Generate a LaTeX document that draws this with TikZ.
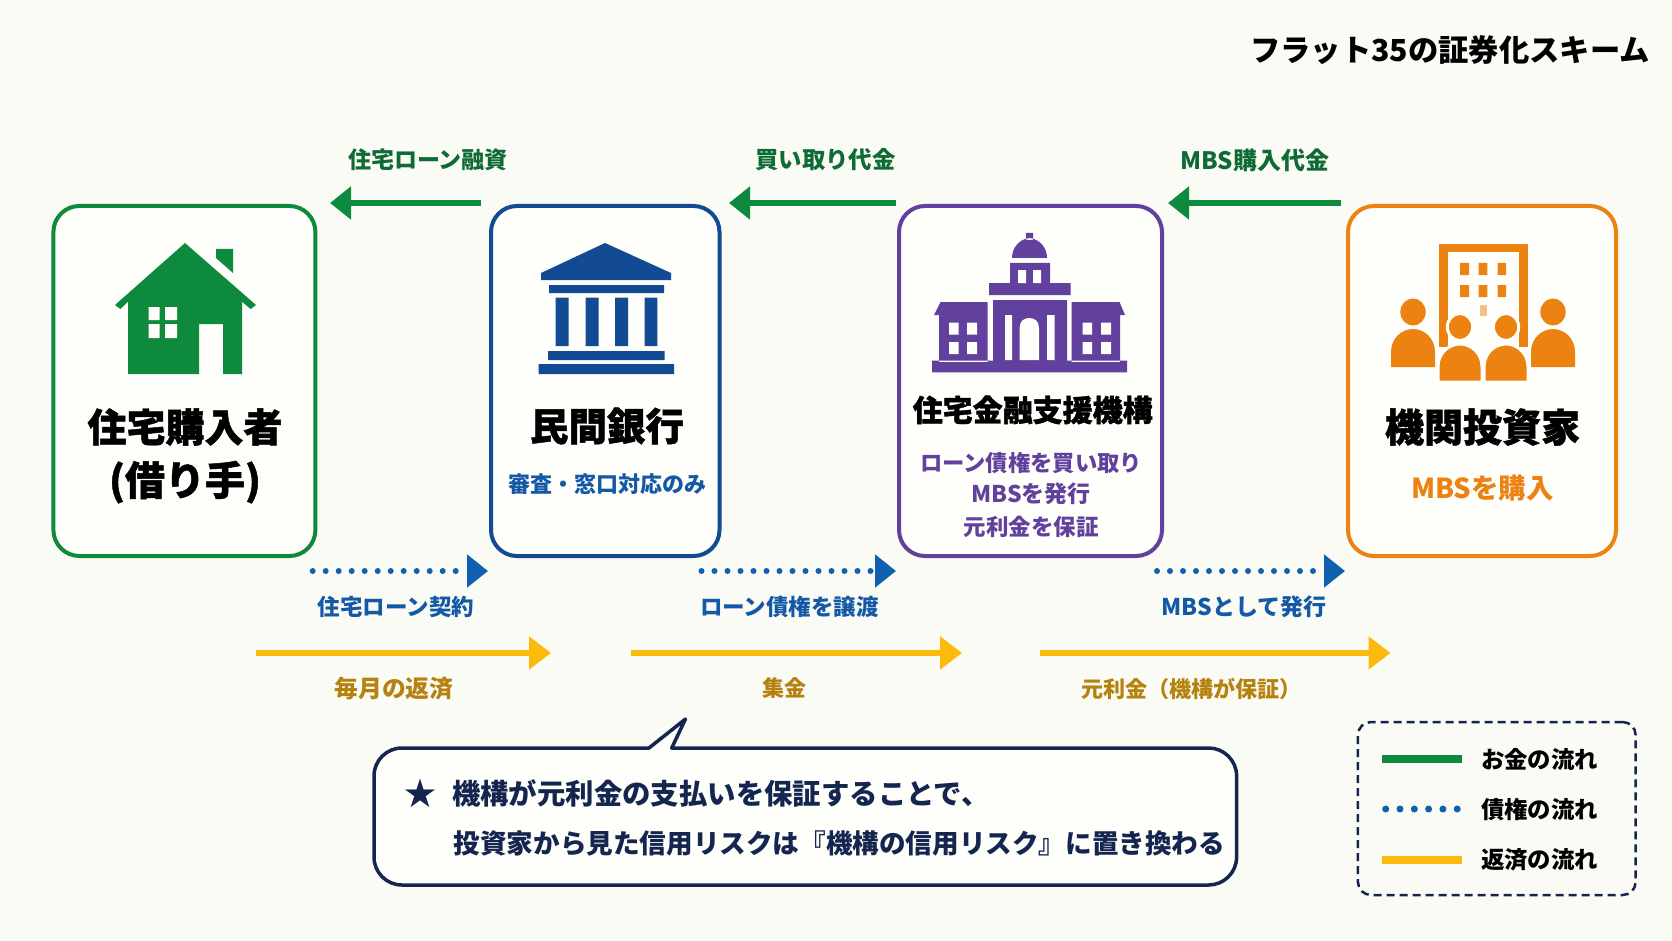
\documentclass[tikz,border=0pt]{standalone}
\usepackage{fontspec}
\setmainfont{Noto Sans CJK JP}
\newfontfamily\heavyfont{Noto Sans CJK JP}[UprightFont=* Bold, FakeBold=1.2]
\usepackage{tikz}
\usetikzlibrary{positioning, arrows.meta}
\definecolor{pageclr}{rgb}{0.985, 0.985, 0.96}
\definecolor{cardclr}{rgb}{0.995, 0.995, 0.98}
\definecolor{moneyclr}{rgb}{0.05, 0.54, 0.24}
\definecolor{moneytxt}{rgb}{0.06, 0.42, 0.21}
\definecolor{bankclr}{rgb}{0.07, 0.29, 0.58}
\definecolor{claimclr}{rgb}{0.06, 0.38, 0.69}
\definecolor{claimtxt}{rgb}{0.08, 0.35, 0.65}
\definecolor{agencyclr}{rgb}{0.38, 0.25, 0.62}
\definecolor{investclr}{rgb}{0.92, 0.51, 0.07}
\definecolor{payclr}{rgb}{0.99, 0.73, 0.05}
\definecolor{paytxt}{rgb}{0.71, 0.51, 0.06}
\definecolor{navyclr}{rgb}{0.08, 0.15, 0.31}
\tikzset{ %
  ,party/.style={draw, rounded corners=26pt, line width=4pt, fill=cardclr, minimum height=350pt, inner sep=0, outer sep=0}
  ,txt/.style={inner sep=0, outer sep=0, font=\bfseries\fontsize{#1pt}{#1pt}\selectfont, text height={0.88*#1}, text depth={0.12*#1}}
  ,head/.style={txt=#1, text=black, execute at begin node=\heavyfont}
  ,money/.style={color=moneyclr, line width=6.5pt, -{Triangle[length=21pt, width=32pt]}}
  ,claim/.style={color=claimclr, line width=6pt, line cap=round, dash pattern=on 0pt off 13pt, -{Triangle[length=21pt, width=32pt]}}
  ,pay/.style={color=payclr, line width=6.5pt, -{Triangle[length=22pt, width=32pt]}}
  ,person/.pic={
    \path[pic actions] (0,0) ellipse [x radius=12.7pt, y radius=13.5pt];
    \path[pic actions] (-22,55) -- (-22,40) .. controls (-22,26) and (-11,17) .. (0,17) .. controls (11,17) and (22,26) .. (22,40) -- (22,55) -- cycle;
  }
}
\begin{document}
\begin{tikzpicture}[x=1pt, y=-1pt]
  \fill[pageclr] (0,0) rectangle (1672,941);

  \draw
  node[party, draw=moneyclr, minimum width=262pt] (buyer) at (184.4,381) {}
  node[party, draw=bankclr, minimum width=228.5pt, right=175.6pt of buyer] (bank) {}
  node[party, draw=agencyclr, minimum width=263pt, right=179.5pt of bank] (agency) {}
  node[party, draw=investclr, minimum width=268pt, right=186pt of agency] (invest) {};

  \fill[moneyclr] (185,243) -- (256,305) -- (250.6,309) -- (242,301.7) -- (242,374) -- (223,374) -- (223,324) -- (199,324) -- (199,374) -- (128,374) -- (128,301.7) -- (120.4,309) -- (115,305) -- cycle
    (216,249) -- (233,249) -- (233,273) -- (216,258) -- cycle;
  \fill[cardclr] (148.5,307) rectangle (159.6,320) (165,307) rectangle (177,320) (148.5,324) rectangle (159.6,338) (165,324) rectangle (177,338);

  \fill[bankclr] (605,243) -- (671,273) -- (671,280) -- (541,280) -- (541,273) -- cycle
    (549,285) rectangle (664,293)
    (555.6,297.7) rectangle (568.6,346) (585.5,297.7) rectangle (598.5,346) (615,297.7) rectangle (628,346) (644.5,297.7) rectangle (657.4,346)
    (548,351) rectangle (664.5,360) (538.7,364) rectangle (674,374);

  \fill[agencyclr] (1026,233) rectangle (1033,240)
    (1012,258) .. controls (1012,247) and (1020,239) .. (1029.5,238) .. controls (1039,239) and (1047,247) .. (1047,258) -- cycle
    (1010,263) rectangle (1050,284) (989,283) rectangle (1070.5,295) (993,300) rectangle (1067,362)
    (940.6,302) -- (987.6,302) -- (987.6,362) -- (939,362) -- (939,315) -- (934,315) -- cycle
    (1071.5,302) -- (1119.5,302) -- (1125,315) -- (1120,315) -- (1120,362) -- (1071.5,362) -- cycle
    (932,360.7) rectangle (1127,372.3);
  \fill[cardclr] (1018,270) rectangle (1026,283) (1033,270) rectangle (1041,283)
    (1005,315) rectangle (1012,360) (1047,315) rectangle (1054.5,360)
    (1019.6,360) -- (1019.6,328) .. controls (1019.6,321) and (1024,318) .. (1029.3,318) .. controls (1034.6,318) and (1039,321) .. (1039,328) -- (1039,360) -- cycle
    (949,322.7) rectangle (958.5,334.7) (967,322.7) rectangle (977,334.7) (949,342) rectangle (958.5,354) (967,342) rectangle (977,354)
    (1082.6,322.7) rectangle (1092,334.7) (1101,322.7) rectangle (1111,334.7) (1082.6,342) rectangle (1092,354) (1101,342) rectangle (1111,354);

  \fill[investclr] (1439,244) rectangle (1527.6,347);
  \fill[cardclr] (1448,252) rectangle (1519,347);
  \fill[investclr] (1460,263) rectangle (1469,275) (1478.6,263) rectangle (1487.4,275) (1497.5,263) rectangle (1506,275)
    (1460,285) rectangle (1469,297) (1478.6,285) rectangle (1487.4,297) (1497.5,285) rectangle (1506,297);
  \fill[investclr!50!cardclr] (1480,305) rectangle (1487,316);
  \pic[fill=investclr] at (1413,312) {person};
  \pic[fill=investclr] at (1553,312) {person};
  \pic[fill=investclr, draw=cardclr, line width=3pt] at (1460,327) {person};
  \pic[fill=investclr, draw=cardclr, line width=3pt] at (1506,327) {person};

  \draw
  node[txt=30.3] (title) at (1450,50) {フラット35の証券化スキーム}
  node[head=39] (buyerA) at (185,427) {住宅購入者}
  node[head=40] (buyerB) at (185,480) {(借り手)}
  node[head=38.5] (bankA) at (607,426) {民間銀行}
  node[txt=22, text=claimtxt] (bankB) at (607,484) {審査・窓口対応のみ}
  node[head=30] (agencyA) at (1032.7,410) {住宅金融支援機構}
  node[txt=22.3, text=agencyclr] (agencyB) at (1031,463) {ローン債権を買い取り}
  node[txt=23, text=agencyclr] (agencyC) at (1031,494) {MBSを発行}
  node[txt=22.5, text=agencyclr] (agencyD) at (1031,527) {元利金を保証}
  node[head=39] (investA) at (1482.5,427) {機関投資家}
  node[txt=27.5, text=investclr] (investB) at (1482.5,488) {MBSを購入};

  \coordinate (loanS) at (481,203);
  \coordinate (loanE) at (330,203);
  \coordinate (buyS) at (896,203);
  \coordinate (buyE) at (729,203);
  \coordinate (mbsS) at (1341,203);
  \coordinate (mbsE) at (1168,203);
  \coordinate (deedS) at (312.7,571);
  \coordinate (deedE) at (488,571);
  \coordinate (sellS) at (701.5,571);
  \coordinate (sellE) at (896,571);
  \coordinate (issueS) at (1157,571);
  \coordinate (issueE) at (1345,571);
  \coordinate (monthS) at (256,653);
  \coordinate (monthE) at (551,653);
  \coordinate (poolS) at (630.7,653);
  \coordinate (poolE) at (962,653);
  \coordinate (backS) at (1039.7,653);
  \coordinate (backE) at (1390.5,653);
  \path (loanS) edge[money] (loanE) (buyS) edge[money] (buyE) (mbsS) edge[money] (mbsE);
  \path (deedS) edge[claim] (deedE) (sellS) edge[claim] (sellE) (issueS) edge[claim] (issueE);
  \path (monthS) edge[pay] (monthE) (poolS) edge[pay] (poolE) (backS) edge[pay] (backE);

  \draw
  node[txt=23, text=moneytxt] (loanL) at (428,160) {住宅ローン融資}
  node[txt=23.4, text=moneytxt] (buyL) at (825.5,160) {買い取り代金}
  node[txt=24, text=moneytxt] (mbsL) at (1255,160) {MBS購入代金}
  node[txt=22.5, text=claimtxt] (deedL) at (396,607) {住宅ローン契約}
  node[txt=22.5, text=claimtxt] (sellL) at (789.5,607) {ローン債権を譲渡}
  node[txt=23, text=claimtxt] (issueL) at (1244,607) {MBSとして発行}
  node[txt=23.8, text=paytxt] (monthL) at (394,688) {毎月の返済}
  node[txt=22, text=paytxt] (poolL) at (784,688) {集金}
  node[txt=22.1, text=paytxt] (backL) at (1191.5,689) {元利金（機構が保証）};

  \draw[navyclr, line width=3.5pt, fill=cardclr, line join=round]
    (402,748) -- (649,748) -- (685.5,719) -- (671.7,748) -- (1208.6,748)
    .. controls (1224,748) and (1236.6,760.5) .. (1236.6,776) -- (1236.6,857)
    .. controls (1236.6,872.5) and (1224,885) .. (1208.6,885) -- (402,885)
    .. controls (386.5,885) and (374,872.5) .. (374,857) -- (374,776)
    .. controls (374,760.5) and (386.5,748) .. (402,748) -- cycle;
  \draw
  node[txt=32, text=navyclr] (star) at (420,793) {★}
  node[txt=28.4, text=navyclr, anchor=west] (noteA) at (452,794) {機構が元利金の支払いを保証することで、}
  node[txt=26.6, text=navyclr, anchor=west] (noteB) at (453.6,843) {投資家から見た信用リスクは『機構の信用リスク』に置き換わる};

  \node[draw=navyclr, line width=2.5pt, dash pattern=on 8pt off 5pt, rounded corners=13pt, minimum width=277.7pt, minimum height=173pt, inner sep=0, outer sep=0] (legend) at (1496.8,808.5) {};
  \coordinate (keyAS) at (1382,759.3);
  \coordinate (keyAE) at (1461.7,759.3);
  \coordinate (keyBS) at (1385.7,809);
  \coordinate (keyBE) at (1460,809);
  \coordinate (keyCS) at (1382,860);
  \coordinate (keyCE) at (1461.7,860);
  \draw[moneyclr, line width=8pt] (keyAS) -- (keyAE);
  \draw[claimclr, line width=7pt, line cap=round, dash pattern=on 0pt off 14.3pt] (keyBS) -- (keyBE);
  \draw[payclr, line width=8pt] (keyCS) -- (keyCE);
  \draw
  node[txt=23.4, text=black, anchor=west] (keyA) at (1481,760) {お金の流れ}
  node[txt=23.4, text=black, anchor=west] (keyB) at (1481,810) {債権の流れ}
  node[txt=23.4, text=black, anchor=west] (keyC) at (1481,860) {返済の流れ};
\end{tikzpicture}
\end{document}
